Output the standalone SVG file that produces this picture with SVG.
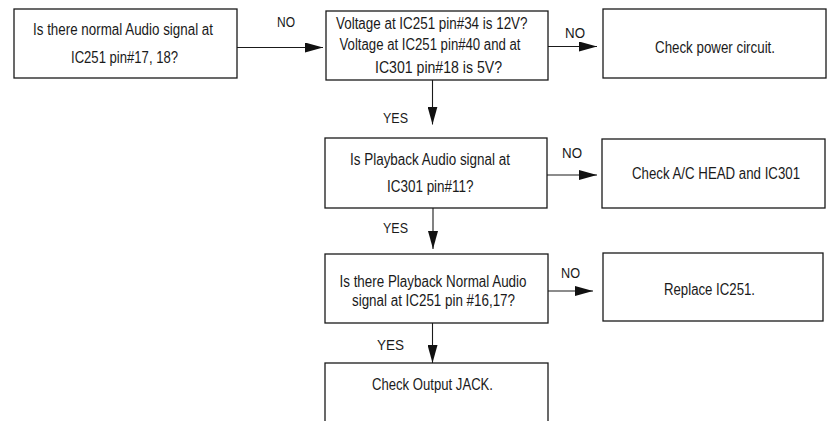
<svg xmlns="http://www.w3.org/2000/svg" width="834" height="421" viewBox="0 0 834 421">
<style>
.box{fill:#fff;stroke:#1a1a1a;stroke-width:1.3}
.t{font-family:"Liberation Sans",Arial,sans-serif;font-size:16px;fill:#1a1a1a}
.l{font-family:"Liberation Sans",Arial,sans-serif;font-size:15px;fill:#1a1a1a}
.c{stroke:#1a1a1a;stroke-width:1.1;fill:none;marker-end:url(#ah)}
</style>
<defs>
<marker id="ah" markerUnits="userSpaceOnUse" markerWidth="18" markerHeight="10" refX="18" refY="5" orient="auto">
<path d="M0,0 L18,5 L0,10 z" fill="#111"/>
</marker>
</defs>
<rect width="834" height="421" fill="#fff"/>
<g id="connectors">
<line class="c" x1="237" y1="47.5" x2="323" y2="47.5"/>
<line class="c" x1="548" y1="46.5" x2="597" y2="46.5"/>
<line class="c" x1="432.5" y1="80" x2="432.5" y2="124.5"/>
<line class="c" x1="547" y1="175" x2="597" y2="175"/>
<line class="c" x1="433" y1="208" x2="433" y2="249"/>
<line class="c" x1="548" y1="291" x2="593" y2="291"/>
<line class="c" x1="432.5" y1="323" x2="432.5" y2="363"/>
<text class="l" x="277" y="27" textLength="18" lengthAdjust="spacingAndGlyphs">NO</text>
<text class="l" x="565" y="38" textLength="20" lengthAdjust="spacingAndGlyphs">NO</text>
<text class="l" x="562" y="158" textLength="20" lengthAdjust="spacingAndGlyphs">NO</text>
<text class="l" x="561" y="278" textLength="19" lengthAdjust="spacingAndGlyphs">NO</text>
<text class="l" x="383" y="123" textLength="25" lengthAdjust="spacingAndGlyphs">YES</text>
<text class="l" x="383" y="233" textLength="25" lengthAdjust="spacingAndGlyphs">YES</text>
<text class="l" x="377" y="349.5" textLength="27" lengthAdjust="spacingAndGlyphs">YES</text>
</g>
<g id="n1">
<rect class="box" x="14" y="9" width="223" height="69"/>
<text class="t" x="33" y="35" textLength="180" lengthAdjust="spacingAndGlyphs">Is there normal Audio signal at</text>
<text class="t" x="71" y="63" textLength="107" lengthAdjust="spacingAndGlyphs">IC251 pin#17, 18?</text>
</g>
<g id="n2">
<rect class="box" x="326" y="11" width="222" height="69"/>
<text class="t" x="336" y="28.5" textLength="191.5" lengthAdjust="spacingAndGlyphs">Voltage at IC251 pin#34 is 12V?</text>
<text class="t" x="339.5" y="50" textLength="181" lengthAdjust="spacingAndGlyphs">Voltage at IC251 pin#40 and at</text>
<text class="t" x="375" y="72.5" textLength="127" lengthAdjust="spacingAndGlyphs">IC301 pin#18 is 5V?</text>
</g>
<g id="n3">
<rect class="box" x="603" y="9" width="223" height="69"/>
<text class="t" x="655" y="53" textLength="120" lengthAdjust="spacingAndGlyphs">Check power circuit.</text>
</g>
<g id="n4">
<rect class="box" x="325" y="138" width="222" height="70"/>
<text class="t" x="350" y="165" textLength="160" lengthAdjust="spacingAndGlyphs">Is Playback Audio signal at</text>
<text class="t" x="387" y="192" textLength="86.5" lengthAdjust="spacingAndGlyphs">IC301 pin#11?</text>
</g>
<g id="n5">
<rect class="box" x="602" y="139" width="223" height="69"/>
<text class="t" x="632" y="179" textLength="168" lengthAdjust="spacingAndGlyphs">Check A/C HEAD and IC301</text>
</g>
<g id="n6">
<rect class="box" x="325" y="254" width="223" height="69"/>
<text class="t" x="339.5" y="286.5" textLength="187" lengthAdjust="spacingAndGlyphs">Is there Playback Normal Audio</text>
<text class="t" x="352" y="305.5" textLength="163" lengthAdjust="spacingAndGlyphs">signal at IC251 pin #16,17?</text>
</g>
<g id="n7">
<rect class="box" x="603" y="253" width="220" height="68"/>
<text class="t" x="664" y="295" textLength="91" lengthAdjust="spacingAndGlyphs">Replace IC251.</text>
</g>
<g id="n8">
<rect class="box" x="325" y="363" width="223" height="65"/>
<text class="t" x="372" y="390" textLength="121" lengthAdjust="spacingAndGlyphs">Check Output JACK.</text>
</g>
</svg>
